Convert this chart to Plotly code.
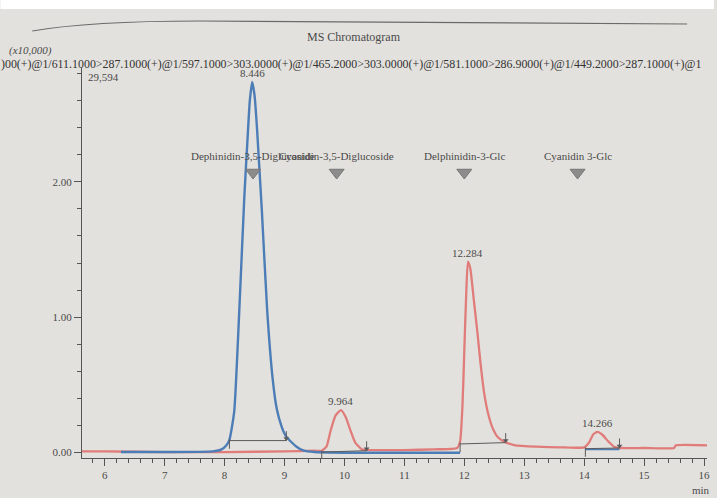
import plotly.graph_objects as go

# ---------------- data ----------------
red_t = [5.62, 6.0, 7.0, 8.0, 9.0, 9.5, 9.62, 9.7, 9.77, 9.85, 9.94, 10.02, 10.1, 10.18, 10.29, 10.4,
         11.0, 11.5, 11.88, 11.93, 11.97, 12.0, 12.03, 12.06, 12.1, 12.16, 12.22, 12.27, 12.33, 12.4,
         12.48, 12.56, 12.7, 12.85, 13.2, 13.6, 14.0, 14.08, 14.15, 14.22, 14.3, 14.4, 14.5, 14.6,
         15.0, 15.5, 15.53, 16.05]
red_i = [0.005, 0.005, 0.0, 0.0, 0.005, 0.01, 0.01, 0.04, 0.16, 0.27, 0.31, 0.26, 0.16, 0.07, 0.02, 0.015,
         0.015, 0.02, 0.03, 0.08, 0.35, 0.75, 1.15, 1.41, 1.36, 1.12, 0.88, 0.66, 0.44, 0.28,
         0.17, 0.11, 0.07, 0.05, 0.04, 0.035, 0.035, 0.07, 0.13, 0.15, 0.13, 0.08, 0.04, 0.03,
         0.03, 0.03, 0.05, 0.05]

blue_t = [6.27, 7.0, 7.8, 7.95, 8.03, 8.08, 8.16, 8.24, 8.33, 8.38, 8.42, 8.46, 8.5, 8.54, 8.58,
          8.62, 8.71, 8.8, 8.87, 8.95, 9.02, 9.1, 9.2, 9.32, 9.5, 10.0, 11.0, 11.93]
blue_i = [0.0, 0.0, 0.005, 0.02, 0.05, 0.09, 0.3, 1.0, 1.9, 2.3, 2.6, 2.74, 2.64, 2.4, 2.1,
          1.8, 1.05, 0.55, 0.32, 0.19, 0.12, 0.08, 0.04, 0.01, 0.0, -0.005, -0.005, -0.005]

blue2_t = [14.02, 14.59]
blue2_i = [0.02, 0.02]

# compound markers
cmp_names = ["Dephinidin-3,5-Diglucoside", "Cyanidin-3,5-Diglucoside", "Delphinidin-3-Glc", "Cyanidin 3-Glc"]
cmp_rt = [8.475, 9.87, 12.0, 13.89]
cmp_level = 2.07

# peak top labels
pk_text = ["8.446", "9.964", "12.284", "14.266"]
pk_x = [8.46, 9.94, 12.05, 14.22]
pk_y = [2.74, 0.31, 1.41, 0.15]

# integration events
int_start = [8.08, 9.62, 11.93, 14.02]
int_start_y = [0.085, 0.0, 0.06, 0.025]
int_end = [9.03, 10.37, 12.69, 14.59]
int_end_y = [0.085, 0.01, 0.07, 0.03]

x_ticks = [6, 7, 8, 9, 10, 11, 12, 13, 14, 15, 16]
y_ticks = [0, 1, 2]
y_tick_text = ["0.00", "1.00", "2.00"]

header = ")00(+)@1/611.1000>287.1000(+)@1/597.1000>303.0000(+)@1/465.2000>303.0000(+)@1/581.1000>286.9000(+)@1/449.2000>287.1000(+)@1"

FONT = "Liberation Serif"
TXT = "#4a4a4a"
RED = "#e07c7a"
BLUE = "#4d7db7"
BG = "#e3e1dd"

fig = go.Figure()

fig.add_trace(go.Scatter(x=red_t, y=red_i, mode="lines", line=dict(color=RED, width=2.3, shape="spline", smoothing=0.5),
                         hoverinfo="skip"))
fig.add_trace(go.Scatter(x=blue_t, y=blue_i, mode="lines", line=dict(color=BLUE, width=2.4, shape="spline", smoothing=0.5),
                         hoverinfo="skip"))
fig.add_trace(go.Scatter(x=blue2_t, y=blue2_i, mode="lines", line=dict(color=BLUE, width=1.8), hoverinfo="skip"))

# integration baselines
bx, by = [], []
for xs, ys, xe, ye in zip(int_start, int_start_y, int_end, int_end_y):
    bx += [xs, xe, None]
    by += [ys, ye, None]
fig.add_trace(go.Scatter(x=bx, y=by, mode="lines", line=dict(color="#5a5a5a", width=1), hoverinfo="skip"))
# start ticks
sx, sy = [], []
for xs, ys in zip(int_start, int_start_y):
    sx += [xs, xs, None]
    sy += [ys + 0.01, ys - 0.06, None]
fig.add_trace(go.Scatter(x=sx, y=sy, mode="lines", line=dict(color="#5a5a5a", width=1), hoverinfo="skip"))
# end arrows
ex, ey = [], []
for xe, ye in zip(int_end, int_end_y):
    ex += [xe, xe, None]
    ey += [ye + 0.07, ye, None]
fig.add_trace(go.Scatter(x=ex, y=ey, mode="lines", line=dict(color="#5a5a5a", width=1), hoverinfo="skip"))
fig.add_trace(go.Scatter(x=int_end, y=[v + 0.015 for v in int_end_y], mode="markers",
                         marker=dict(symbol="triangle-down", size=5, color="#5a5a5a"), hoverinfo="skip"))

# compound markers
fig.add_trace(go.Scatter(x=cmp_rt, y=[cmp_level] * len(cmp_rt), mode="markers",
                         marker=dict(symbol="triangle-down", size=13, color="#8c8c8c",
                                     line=dict(color="#777777", width=1)), hoverinfo="skip"))

annotations = []
for n, x in zip(cmp_names, cmp_rt):
    annotations.append(dict(x=x, y=cmp_level + 0.065, text=n, showarrow=False, yanchor="bottom",
                            font=dict(family=FONT, size=11, color=TXT)))
for t, x, y in zip(pk_text, pk_x, pk_y):
    annotations.append(dict(x=x, y=y, text=t, showarrow=False, yanchor="bottom", yshift=1,
                            font=dict(family=FONT, size=11, color=TXT)))

# header texts (paper coords; plot area 82..710 px wide, 68..458 px tall)
def px(xp):
    return (xp - 82) / 628.0

def py(yp):
    return (458 - yp) / 390.0

annotations += [
    dict(xref="paper", yref="paper", x=px(355), y=py(28), text="MS Chromatogram", showarrow=False,
         font=dict(family=FONT, size=12, color=TXT)),
    dict(xref="paper", yref="paper", x=px(7), y=py(42), text="<i>(x10,000)</i>", showarrow=False, xanchor="left",
         font=dict(family=FONT, size=11, color=TXT)),
    dict(xref="paper", yref="paper", x=px(-1), y=py(55), text=header, showarrow=False, xanchor="left",
         font=dict(family=FONT, size=11.9, color="#333333")),
    dict(xref="paper", yref="paper", x=px(86), y=py(69), text="29,594", showarrow=False, xanchor="left",
         font=dict(family=FONT, size=11, color=TXT)),
    dict(xref="paper", yref="paper", x=px(704), y=py(490), text="min", showarrow=False, xanchor="center",
         yanchor="middle", font=dict(family=FONT, size=11, color=TXT)),
]

shapes = [
    dict(type="rect", xref="paper", yref="paper", x0=px(0), x1=px(717), y0=py(9), y1=py(0),
         fillcolor="white", line=dict(width=0), layer="below"),
    dict(type="path", xref="paper", yref="paper",
         path=f"M {px(32)} {py(31)} Q {px(90)} {py(21)} {px(200)} {py(21)} L {px(690)} {py(24)}",
         line=dict(color="#6a6a6a", width=1.2)),
]

fig.update_layout(
    width=717, height=498,
    margin=dict(l=82, r=7, t=68, b=40),
    paper_bgcolor=BG, plot_bgcolor=BG,
    showlegend=False,
    annotations=annotations,
    shapes=shapes,
    font=dict(family=FONT, size=11, color=TXT),
    xaxis=dict(range=[5.62, 16.05], tickvals=x_ticks, ticks="outside", ticklen=7, tickcolor="#555",
               showline=True, linecolor="#555", linewidth=1, showgrid=False, zeroline=False,
               tickfont=dict(family=FONT, size=11, color=TXT),
               minor=dict(dtick=0.2, ticks="outside", ticklen=4, tickcolor="#555")),
    yaxis=dict(range=[-0.044, 2.844], tickvals=y_ticks, ticktext=y_tick_text, ticks="outside", ticklen=7,
               tickcolor="#555", showline=True, linecolor="#555", linewidth=1, showgrid=False, zeroline=False,
               tickfont=dict(family=FONT, size=11, color=TXT),
               minor=dict(dtick=0.2, ticks="outside", ticklen=4, tickcolor="#555")),
)

fig.write_html("out.html", config={"displayModeBar": False},
               post_script="document.body.style.margin='0px';document.body.style.overflow='hidden';")
